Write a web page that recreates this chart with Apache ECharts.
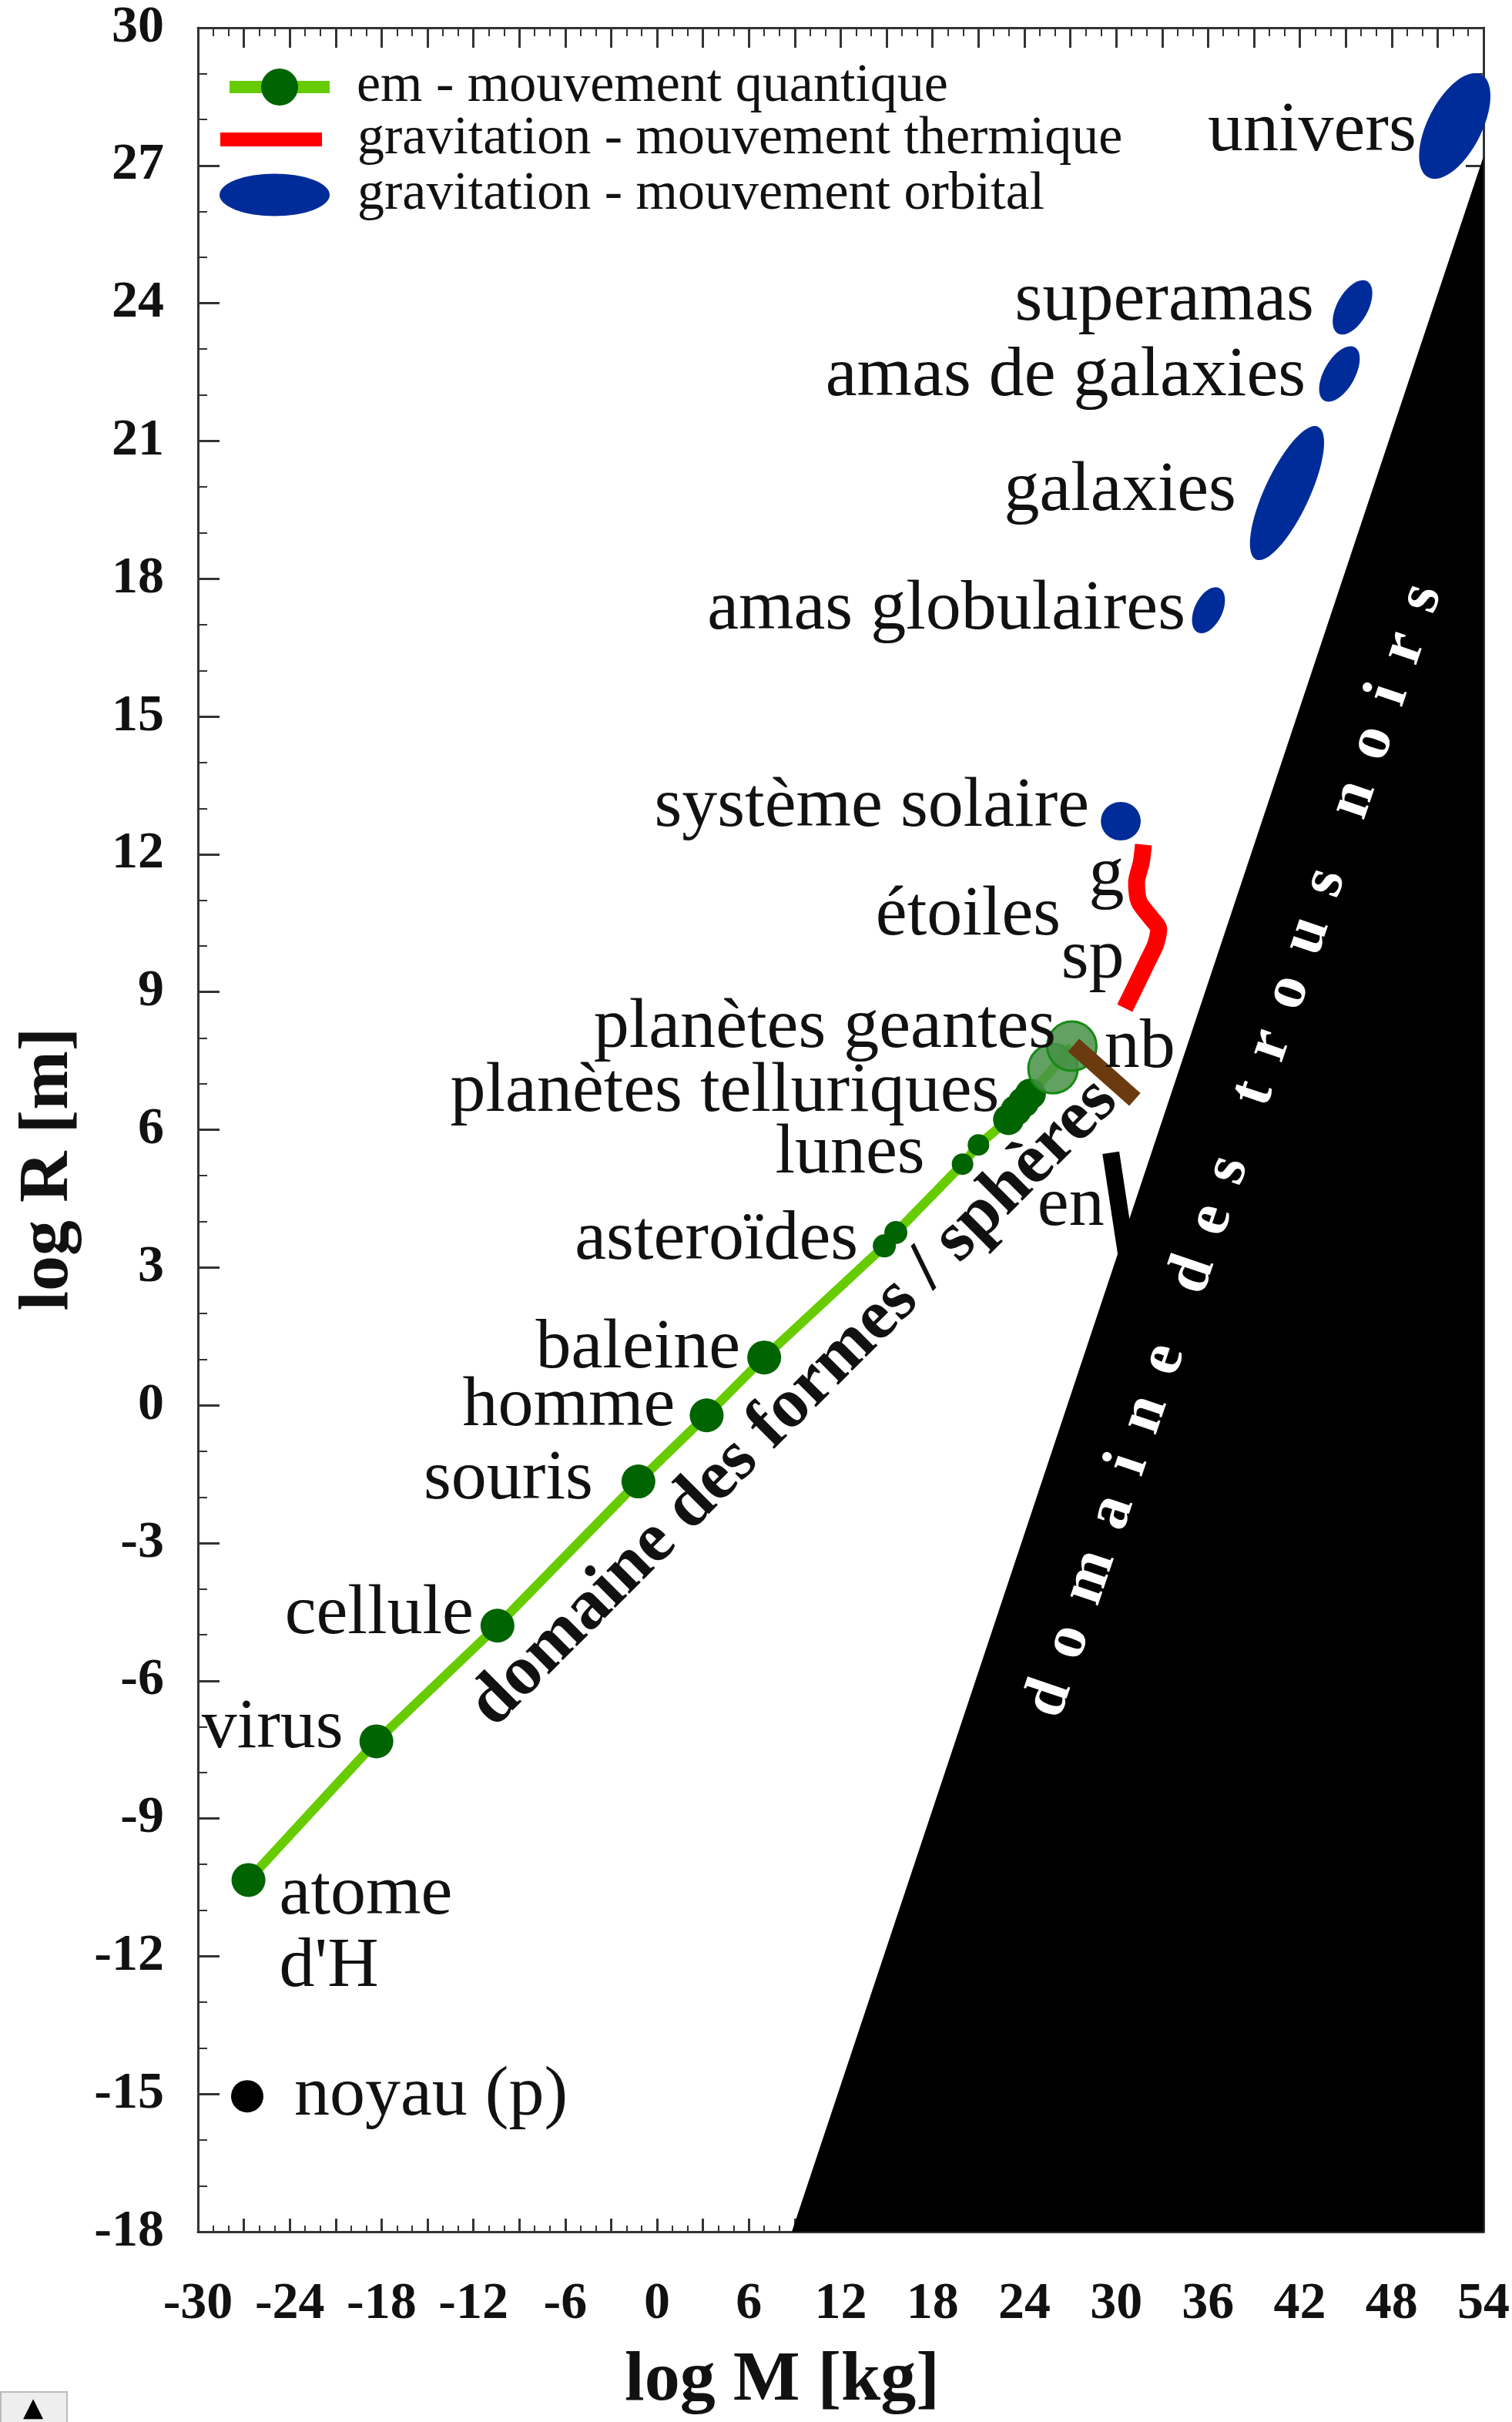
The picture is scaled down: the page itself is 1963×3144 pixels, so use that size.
<!DOCTYPE html>
<html><head><meta charset="utf-8">
<script src="https://cdn.jsdelivr.net/npm/echarts@6/dist/echarts.min.js"></script>
<style>html,body{margin:0;padding:0;background:#fff}#c{width:1963px;height:3144px}</style>
</head><body><div id="c"></div>
<script>
// ---------------- DATA (log10 values) ----------------
// x ticks / y ticks
const xTicks = [-30, -24, -18, -12, -6, 0, 6, 12, 18, 24, 30, 36, 42, 48, 54];
const yTicks = [-18, -15, -12, -9, -6, -3, 0, 3, 6, 9, 12, 15, 18, 21, 24, 27, 30];

// electromagnetism - quantum motion bodies
const emNames = ["atome\nd'H", 'virus', 'cellule', 'souris', 'homme', 'baleine',
  'asteroïdes', 'asteroïdes', 'lunes', 'lunes',
  'planètes telluriques', 'planètes telluriques', 'planètes telluriques', 'planètes telluriques',
  'planètes geantes', 'planètes geantes'];
const emLogMass   = [-26.70, -18.34, -10.43, -1.22, 3.24, 7.00, 14.85, 15.60, 19.96, 21.00, 22.96, 23.45, 23.95, 24.40, 25.87, 27.10];
const emLogRadius = [-10.34, -7.32, -4.80, -1.66, -0.22, 1.04, 3.47, 3.76, 5.25, 5.67, 6.22, 6.42, 6.60, 6.78, 7.33, 7.82];

// nucleus (proton)
const nucleusName = 'noyau (p)';
const nucleusLogMass = [-26.78];
const nucleusLogRadius = [-15.05];

// gravitation - thermal motion (stars: giants g -> main sequence sp)
const thermLogMass   = [31.78, 31.64, 31.33, 31.49, 32.26, 32.78, 32.57, 31.95, 31.33, 30.56];
const thermLogRadius = [12.21, 11.82, 11.39, 10.97, 10.62, 10.37, 10.03, 9.60, 9.17, 8.65];

// brown dwarfs (nb) and neutron stars (en)
const brownLogMass = [27.22, 31.22];
const brownLogRadius = [7.84, 6.66];
const neutronLogMass = [29.65, 30.70];
const neutronLogRadius = [5.50, 3.20];

// gravitation - orbital motion (extent of each system)
const orbitNames = ['univers', 'superamas', 'amas de galaxies', 'galaxies', 'amas globulaires', 'système solaire'];
const orbitLogMassMin   = [50.40, 44.49, 43.59, 39.13, 35.33, 29.00];
const orbitLogMassMax   = [53.85, 46.39, 45.59, 43.19, 36.73, 31.60];
const orbitLogRadiusMin = [26.74, 23.34, 21.88, 18.42, 16.83, 12.72];
const orbitLogRadiusMax = [28.98, 24.48, 23.04, 21.31, 17.80, 12.72];

// black hole domain boundary
const bhLogMass = [8.83, 54];
const bhLogRadius = [-18, 27.17];

// series names (legend)
const EM_NAME = 'em - mouvement quantique';
const TH_NAME = 'gravitation - mouvement thermique';
const OR_NAME = 'gravitation - mouvement orbital';

// ---------------- STYLE / LAYOUT ----------------
const SERIF = "'Liberation Serif', 'DejaVu Serif', serif";
const GREEN_LINE = '#66cc00', GREEN_DOT = '#006400', BLUE = '#002c99', RED = '#ff0000', BROWN = '#6b3a0e';
const EM_SYMBOL = {'asteroïdes': 30, 'lunes': 28, 'planètes telluriques': 40, 'planètes geantes': 0};
const EM_SYMBOL_DEFAULT = 44;
const ORBIT_THICKNESS = [70, 40, 40, 58, 36, 50];
// label offsets in pixels relative to the point [dx, dy, align]
const EM_LABEL_LAYOUT = {
  "atome\nd'H": [40, 66, 'left'], 'virus': [-43, -17], 'cellule': [-31, -14], 'souris': [-59, -2],
  'homme': [-41, -11], 'baleine': [-31, -11], 'asteroïdes': [-34, -7], 'lunes': [-49, -13],
  'planètes telluriques': [-12, -36], 'planètes geantes': [4, -52]
};
const ORBIT_LABEL_LAYOUT = {
  'univers': [-50, 7], 'superamas': [-50, -8], 'amas de galaxies': [-44, 3],
  'galaxies': [-66, -2], 'amas globulaires': [-30, 0], 'système solaire': [-41, -18]
};
const spaced = s => s.split(' ').map(w => w.split('').join(' \u2006')).join('  \u2006 ');
// free annotations anchored in data coordinates
const ANNOTATIONS = [
  {text: 'g', at: [30.52, 11.52], align: 'right'},
  {text: 'étoiles', at: [26.37, 10.66], align: 'right'},
  {text: 'sp', at: [30.52, 9.72], align: 'right'},
  {text: 'nb', at: [29.22, 7.77], align: 'left'},
  {text: 'en', at: [29.22, 4.33], align: 'right'},
  {text: 'domaine des formes / sphères', at: [8.95, 0.05], align: 'center', rotate: 45, size: 92, weight: 'bold'},
  {text: spaced('domaine des trous noirs'), at: [37.73, 5.54], align: 'center', rotate: 71.3, size: 82, weight: 'bold', color: '#fff'}
];

function textEl(x, y, text, o) {
  o = o || {};
  return {
    type: 'text', x: x, y: y, rotation: (o.rotate || 0) * Math.PI / 180, z2: 50,
    style: {
      text: text, fill: o.color || '#111', fontFamily: SERIF, fontSize: o.size || 92,
      fontWeight: o.weight || 'normal', align: o.align || 'right', verticalAlign: 'middle',
      lineHeight: o.lineHeight || null
    }
  };
}

// ---------------- BUILD ----------------
const emData = emLogMass.map((m, i) => [m, emLogRadius[i]]);
const giantData = emData.filter((d, i) => emNames[i] === 'planètes geantes');
const emLabelData = [];
emNames.forEach((n, i) => { if (emNames.indexOf(n) === i) emLabelData.push({name: n, value: emData[i]}); });

const ELLIPSE_PATH = 'path://M0,50 A100,50 0 1,1 200,50 A100,50 0 1,1 0,50 Z';

const axisCommon = {
  type: 'value', min: -30, max: 54, interval: 3,
  axisLine: {show: true, onZero: false, lineStyle: {color: '#333', width: 3}},
  splitLine: {show: false}
};
const yCommon = {
  type: 'value', min: -18, max: 30, interval: 3,
  axisLine: {show: true, onZero: false, lineStyle: {color: '#333', width: 3}},
  splitLine: {show: false}
};
const legendText = pad => ({fontFamily: SERIF, fontSize: 70, color: '#111', padding: [0, 0, 0, pad]});

const option = {
  animation: false,
  backgroundColor: '#fff',
  grid: {left: 257, right: 28, top: 36, bottom: 247},
  legend: [
    {data: [{name: EM_NAME}], left: 290, top: 78, padding: 0, selectedMode: false, itemWidth: 130, itemHeight: 60,
      lineStyle: {width: 16}, textStyle: legendText(30)},
    {data: [{name: TH_NAME, icon: 'rect'}], left: 286, top: 146, padding: 0, selectedMode: false, itemWidth: 132, itemHeight: 18,
      textStyle: legendText(41)},
    {data: [{name: OR_NAME, icon: ELLIPSE_PATH}], left: 285, top: 218, padding: 0, selectedMode: false, itemWidth: 143, itemHeight: 55,
      symbolKeepAspect: false, textStyle: legendText(31)}
  ],
  xAxis: [
    Object.assign({}, axisCommon, {
      position: 'bottom',
      name: 'log M [kg]', nameLocation: 'middle', nameGap: 148,
      nameTextStyle: {fontFamily: SERIF, fontSize: 92, fontWeight: 'bold', color: '#111', padding: [0, 152, 0, 0]},
      axisTick: {show: true, inside: true, length: 17, lineStyle: {color: '#333', width: 3}},
      minorTick: {show: true, splitNumber: 3, length: 8, lineStyle: {color: '#333', width: 2}},
      axisLabel: {show: true, margin: 60, fontFamily: SERIF, fontSize: 68, fontWeight: 'bold', color: '#111',
        formatter: v => (xTicks.indexOf(v) >= 0 ? String(v) : '')}
    }),
    Object.assign({}, axisCommon, {
      position: 'top',
      axisTick: {show: true, inside: true, length: 26, lineStyle: {color: '#333', width: 3}},
      minorTick: {show: true, splitNumber: 3, length: 11, lineStyle: {color: '#333', width: 2}},
      axisLabel: {show: false}
    })
  ],
  yAxis: [
    Object.assign({}, yCommon, {
      position: 'left',
      name: 'log R [m]', nameLocation: 'middle', nameGap: 148,
      nameTextStyle: {fontFamily: SERIF, fontSize: 92, fontWeight: 'bold', color: '#111', padding: [0, 102, 0, 0]},
      axisTick: {show: true, inside: true, length: 28, lineStyle: {color: '#333', width: 3}},
      minorTick: {show: true, splitNumber: 3, length: 12, lineStyle: {color: '#333', width: 2}},
      axisLabel: {show: true, margin: 44, fontFamily: SERIF, fontSize: 68, fontWeight: 'bold', color: '#111',
        formatter: v => (yTicks.indexOf(v) >= 0 ? String(v) : '')}
    }),
    Object.assign({}, yCommon, {
      position: 'right',
      axisTick: {show: true, inside: true, length: 23, lineStyle: {color: '#333', width: 3}},
      minorTick: {show: true, splitNumber: 3, length: 11, lineStyle: {color: '#333', width: 2}},
      axisLabel: {show: false}
    })
  ],
  series: [
    { // black hole domain
      name: 'domaine des trous noirs', type: 'line', z: 1,
      data: bhLogMass.map((m, i) => [m, bhLogRadius[i]]),
      symbol: 'none', lineStyle: {color: '#000', width: 1},
      areaStyle: {color: '#000', opacity: 1, origin: 'start'}
    },
    { // neutron stars
      name: 'étoiles à neutrons', type: 'line', z: 3,
      data: neutronLogMass.map((m, i) => [m, neutronLogRadius[i]]),
      symbol: 'none', lineStyle: {color: '#000', width: 22, cap: 'butt'}
    },
    { // thermal
      name: TH_NAME, type: 'line', z: 3, smooth: 0.25,
      data: thermLogMass.map((m, i) => [m, thermLogRadius[i]]),
      symbol: 'none', itemStyle: {color: RED},
      lineStyle: {color: RED, width: 22, cap: 'butt', join: 'round'}
    },
    { // brown dwarfs
      name: 'naines brunes', type: 'line', z: 5,
      data: brownLogMass.map((m, i) => [m, brownLogRadius[i]]),
      symbol: 'none', lineStyle: {color: BROWN, width: 22, cap: 'butt'}
    },
    { // em quantum
      name: EM_NAME, type: 'line', z: 4,
      data: emData,
      symbol: 'circle', showSymbol: true,
      symbolSize: (v, p) => (EM_SYMBOL[emNames[p.dataIndex]] !== undefined ? EM_SYMBOL[emNames[p.dataIndex]] : EM_SYMBOL_DEFAULT),
      itemStyle: {color: GREEN_DOT, opacity: 1},
      lineStyle: {color: GREEN_LINE, width: 12}
    },
    { // giant planets
      name: 'planètes geantes', type: 'scatter', z: 4,
      data: giantData, symbol: 'circle', symbolSize: 64,
      itemStyle: {color: 'rgba(70,145,70,0.85)', borderColor: '#178a17', borderWidth: 3, opacity: 1}
    },
    { // nucleus
      name: nucleusName, type: 'scatter', z: 4,
      data: nucleusLogMass.map((m, i) => [m, nucleusLogRadius[i]]), symbol: 'circle', symbolSize: 42,
      itemStyle: {color: '#000', opacity: 1},
      label: {show: true, position: 'inside', align: 'left', offset: [61, 0], formatter: nucleusName,
        fontFamily: SERIF, fontSize: 92, color: '#111', opacity: 1}
    },
    { // orbital ellipses
      name: OR_NAME, type: 'custom', z: 6, clip: false,
      itemStyle: {color: BLUE},
      encode: {x: [0, 2], y: [1, 3]},
      data: orbitNames.map((n, i) => ({name: n, value: [orbitLogMassMin[i], orbitLogRadiusMin[i], orbitLogMassMax[i], orbitLogRadiusMax[i]]})),
      renderItem: (params, api) => {
        const a = api.coord([api.value(0), api.value(1)]);
        const b = api.coord([api.value(2), api.value(3)]);
        const cx = (a[0] + b[0]) / 2, cy = (a[1] + b[1]) / 2;
        const len = Math.hypot(b[0] - a[0], b[1] - a[1]);
        const ang = Math.atan2(a[1] - b[1], b[0] - a[0]);
        const w = ORBIT_THICKNESS[params.dataIndex];
        const name = orbitNames[params.dataIndex];
        const lay = ORBIT_LABEL_LAYOUT[name];
        return {type: 'group', children: [
          {type: 'ellipse', x: cx, y: cy, rotation: ang,
            shape: {cx: 0, cy: 0, rx: Math.max(len, w) / 2, ry: w / 2}, style: {fill: BLUE}},
          textEl(cx + lay[0], cy + lay[1], name, {})
        ]};
      }
    },
    { // em labels
      name: 'em labels', type: 'custom', z: 8, clip: false, silent: true,
      encode: {x: 0, y: 1},
      data: emLabelData,
      renderItem: (params, api) => {
        const p = api.coord([api.value(0), api.value(1)]);
        const name = emLabelData[params.dataIndex].name;
        const lay = EM_LABEL_LAYOUT[name];
        return textEl(p[0] + lay[0], p[1] + lay[1], name, {align: lay[2] || 'right', lineHeight: 94});
      }
    },
    { // annotations
      name: 'annotations', type: 'custom', z: 9, clip: false, silent: true,
      encode: {x: 0, y: 1},
      data: ANNOTATIONS.map(a => a.at),
      renderItem: (params, api) => {
        const a = ANNOTATIONS[params.dataIndex];
        const p = api.coord([api.value(0), api.value(1)]);
        return textEl(p[0], p[1], a.text, a);
      }
    }
  ],
  graphic: [
    {type: 'rect', left: 0, top: 3104, shape: {width: 86, height: 40},
      style: {fill: '#eeeeee', stroke: '#bbbbbb', lineWidth: 2}},
    {type: 'text', left: 30, top: 3110, style: {text: '▲', fontSize: 34, fill: '#000', fontFamily: 'DejaVu Sans'}}
  ]
};

const chart = echarts.init(document.getElementById('c'));
chart.setOption(option);
</script></body></html>
